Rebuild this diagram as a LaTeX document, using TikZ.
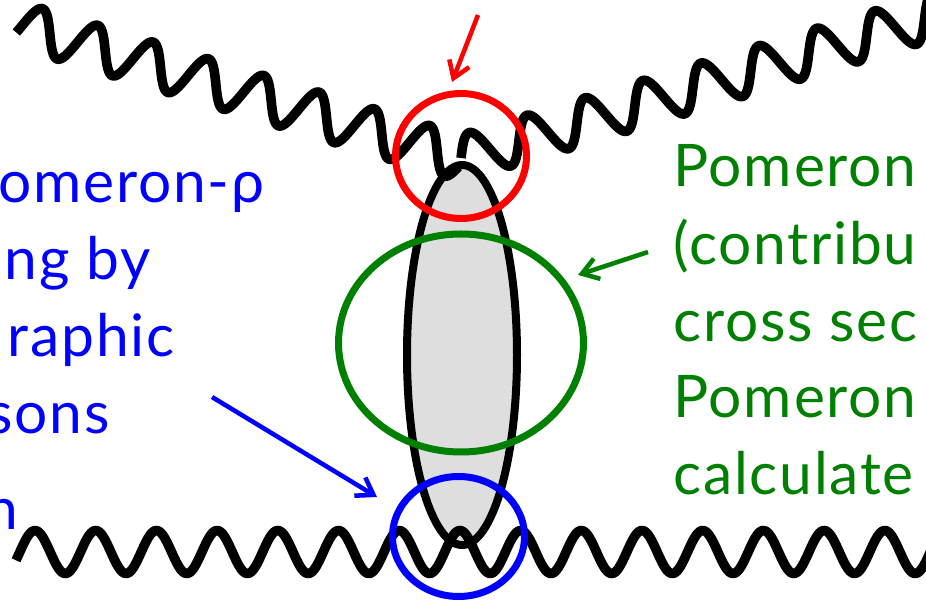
\documentclass[tikz,border=0pt]{standalone}
\usepackage{fontspec}
\setmainfont{Lato}[LetterSpace=3]

\definecolor{blobgrey}{RGB}{222,222,222}
\definecolor{ringred}{RGB}{255,0,0}
\definecolor{ringgreen}{RGB}{0,128,0}
\definecolor{ringblue}{RGB}{0,0,255}
\usetikzlibrary{arrows.meta}

\tikzset{every picture/.style={line width=0.75pt}}
\tikzset{
  photon/.style={line width=7.2pt, line join=round},
  ring/.style={line width=5.25pt},
  pointer/.style={line width=3.4pt, -{Straight Barb[length=12pt,width=16pt]}},
  slidetext/.style={inner sep=0pt, font=\fontsize{44}{52}\selectfont},
}

\begin{document}
\begin{tikzpicture}[x=0.75pt,y=0.75pt,yscale=-1,xscale=1]
\useasboundingbox (0,0) rectangle (926,605);

%Shape: Ellipse [id:blob]
\draw [line width=6pt, fill=blobgrey] (462,355) ellipse [x radius=55, y radius=190];

%Vertex of the upper photons
\coordinate (vtop) at (461,158);

%Wavy Lines [id:photons]
\begin{scope}[shift={(vtop)}, rotate=196.8]
\draw [photon] plot [domain=0:462, samples=320] (\x, {-22*sin(((\x+4)/57.8)*360)});
\end{scope}
\begin{scope}[shift={(vtop)}, rotate=-16.7]
\draw [photon] plot [domain=0:545, samples=380] (\x, {-22*sin((\x/60.5)*360)});
\end{scope}
\draw [photon] plot [domain=16:990, samples=640] (\x, {552-21.5*cos(((\x-35)/60.7)*360)});

%Shape: Circle [id:rings]
\draw [ring, draw=ringred] (461,156) ellipse [x radius=65.5, y radius=62.5];
\draw [ring, draw=ringgreen] (461,343) ellipse [x radius=122.5, y radius=109];
\draw [ring, draw=ringblue] (458.5,536.5) ellipse [x radius=66, y radius=60];

%Straight Lines [id:pointers]
\coordinate (redtail) at (478,15);
\coordinate (redtip) at (452,82);
\coordinate (greentail) at (648,252);
\coordinate (greentip) at (578,275);
\coordinate (bluetail) at (212,397);
\coordinate (bluetip) at (377,497);
\draw [pointer, draw=ringred] (redtail) -- (redtip);
\draw [pointer, draw=ringgreen] (greentail) -- (greentip);
\draw [pointer, draw=ringblue] (bluetail) -- (bluetip);

% Text Node
\node [slidetext, text=ringred, anchor=base] (redcut) at (467,-8) {(\hspace{22pt})};
% Text Node
\node [slidetext, text=ringblue, anchor=base east] (blueone) at (265,203) {omeron-ρ};
\node [slidetext, text=ringblue, anchor=base east] (bluetwo) at (151,280) {ng by};
\node [slidetext, text=ringblue, anchor=base east] (bluethree) at (175,357) {raphic};
\node [slidetext, text=ringblue, anchor=base east] (bluefour) at (110,434) {sons};
\node [slidetext, text=ringblue, anchor=base east] (bluefive) at (19,530) {n};
% Text Node
\node [slidetext, text=ringgreen, anchor=base west] (greenone) at (673,187) {Pomeron};
\node [slidetext, text=ringgreen, anchor=base west] (greentwo) at (673,265) {(contribu};
\node [slidetext, text=ringgreen, anchor=base west] (greenthree) at (673,342) {cross sec};
\node [slidetext, text=ringgreen, anchor=base west] (greenfour) at (673,418) {Pomeron};
\node [slidetext, text=ringgreen, anchor=base west] (greenfive) at (673,495) {calculate};

\end{tikzpicture}
\end{document}
